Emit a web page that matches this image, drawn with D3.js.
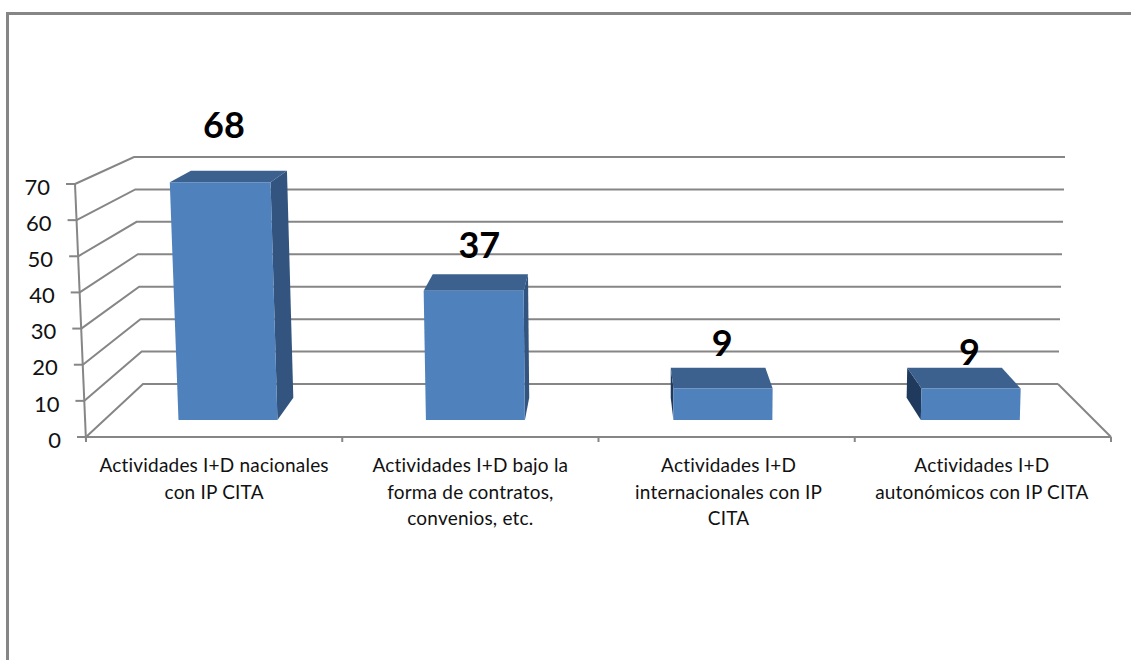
<!DOCTYPE html>
<html><head><meta charset="utf-8">
<script src="https://cdn.jsdelivr.net/npm/d3@7"></script>
<style>html,body{margin:0;padding:0;background:#fff}svg{display:block}</style>
</head><body><svg id="c" width="1131" height="660"></svg>
<script>
const categories = [
  ["Actividades I+D nacionales","con IP CITA"],
  ["Actividades I+D bajo la","forma de contratos,","convenios, etc."],
  ["Actividades I+D","internacionales con IP","CITA"],
  ["Actividades I+D","autonómicos con IP CITA"]
];
const values = [68, 37, 9, 9];
const yTicks = [0,10,20,30,40,50,60,70];

// layout
const labelLift = [45, 29, 24, 15];
const labelNudge = [-15, -1, 4, 15];
const catNudge = [0, 0, 2, -1];
const GRID = "#868686";

const svg = d3.select("#c");
// 3D projection built from linear scales: value -> wall edges, depth blends front/back
const frontY = d3.scaleLinear().domain([0,70]).range([437,184]);
const backY  = d3.scaleLinear().domain([0,70]).range([384,157]);
const frontXL = d3.scaleLinear().domain([0,70]).range([86,75]);
const backXL  = d3.scaleLinear().domain([0,70]).range([143,134]);
const frontXR = d3.scaleLinear().domain([0,70]).range([1111,1120]);
const backXR  = d3.scaleLinear().domain([0,70]).range([1058,1065]);
const band = d3.scaleBand().domain(d3.range(categories.length)).range([0,1]).paddingInner(0.6).paddingOuter(0.3);
function P(u,v,d){
  const xl = frontXL(v)+(backXL(v)-frontXL(v))*d;
  const xr = frontXR(v)+(backXR(v)-frontXR(v))*d;
  return [xl+(xr-xl)*u, frontY(v)+(backY(v)-frontY(v))*d];
}
const line = d3.line();

// frame
svg.append("path").attr("d","M7.5,660V13.5H1131").attr("fill","none").attr("stroke",GRID).attr("stroke-width",3);

// gridlines on the walls
const g = svg.append("g").attr("fill","none").attr("stroke",GRID).attr("stroke-width",2);
yTicks.forEach(t=>{
  g.append("path").attr("d",line([[frontXL(t),frontY(t)],[backXL(t),backY(t)],[backXR(t),backY(t)]]));
});
// back edge stops; floor
g.append("path").attr("d",line([[backXR(0),backY(0)],[frontXR(0),frontY(0)]]));
g.append("path").attr("d",line([[frontXL(0),frontY(0)],[frontXR(0),frontY(0)]]));
// value axis
g.append("path").attr("d",line([[frontXL(70),frontY(70)],[frontXL(0),frontY(0)+4]])).attr("stroke-width",2);
yTicks.forEach(t=>{
  g.append("path").attr("d",line([[frontXL(t)-9,frontY(t)],[frontXL(t),frontY(t)]])).attr("stroke-width",2);
});
// category ticks
d3.range(categories.length+1).forEach(i=>{
  const p=P(i/categories.length,0,0);
  g.append("path").attr("d",line([p,[p[0],p[1]+5]])).attr("stroke-width",2);
});

// bars
const D0=0.32, D1=0.74;
values.forEach((v,i)=>{
  const a=band(i), b=a+band.bandwidth();
  const bg=svg.append("g");
  const poly=(pts,fill)=>bg.append("path").attr("d",line(pts)+"Z").attr("fill",fill);
  if(i>=2){ // left side visible on bars right of the viewpoint
    poly([P(a,0,D0),P(a,v,D0),P(a,v,D1),P(a,0,D1)], "#1f3a5c");
  }
  if(i<2){ // right side
    poly([P(b,0,D0),P(b,v,D0),P(b,v,D1),P(b,0,D1)], "#32547f");
  }
  poly([P(a,v,D0),P(b,v,D0),P(b,v,D1),P(a,v,D1)], "#3c618f");
  poly([P(a,0,D0),P(b,0,D0),P(b,v,D0),P(a,v,D0)], "#4f81bd");
});

// text
const font="Lato, Carlito, 'Open Sans', sans-serif";
yTicks.forEach(t=>{
  svg.append("text").attr("x",frontXL(t)-25).attr("y",frontY(t)+3).attr("dy","0.35em")
    .attr("text-anchor","end").attr("font-family",font).attr("font-size",22).attr("fill","#111").text(t);
});
categories.forEach((lines,i)=>{
  const c=P((i+0.5)/categories.length,0,0)[0]+catNudge[i];
  lines.forEach((s,k)=>{
    svg.append("text").attr("x",c).attr("y",472+k*26.5).attr("text-anchor","middle")
      .attr("font-family",font).attr("font-size",19).attr("letter-spacing",0.2).attr("fill","#111").text(s);
  });
});
values.forEach((v,i)=>{
  const mid=band(i)+band.bandwidth()/2;
  const p=P(mid,v,D1);
  svg.append("text").attr("x",p[0]+labelNudge[i]).attr("y",p[1]-labelLift[i]).attr("dy","0.35em")
    .attr("text-anchor","middle").attr("font-family",font).attr("font-weight",700).attr("font-size",36).attr("fill","#000").text(v);
});
</script></body></html>
